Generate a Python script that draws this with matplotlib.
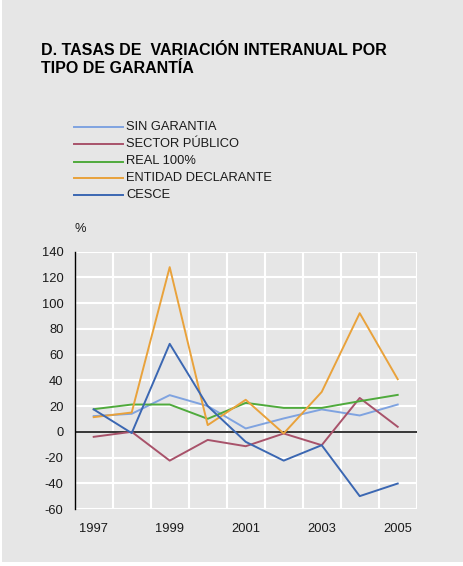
import matplotlib
matplotlib.use("Agg")
import matplotlib.pyplot as plt
from matplotlib.lines import Line2D
from matplotlib.patches import Rectangle
import numpy as np

plt.rcParams['font.family'] = ['Liberation Sans', 'DejaVu Sans']

years = ["1997", "1998", "1999", "2000", "2001", "2002", "2003", "2004", "2005"]
sin_garantia = [12.2, 14.0, 28.5, 20.0, 2.6, 10.4, 17.4, 12.7, 21.2]
sector_publico = [-3.9, 0.0, -22.4, -6.3, -11.2, -1.3, -10.4, 26.3, 3.9]
real_100 = [17.6, 21.2, 21.2, 10.1, 22.5, 18.6, 18.6, 23.8, 28.7]
entidad_declarante = [11.4, 15.0, 128.0, 5.2, 24.9, -1.3, 31.0, 92.2, 40.9]
cesce = [17.4, -1.0, 68.4, 20.0, -7.8, -22.4, -10.4, -50.0, -40.2]

series_names = ["SIN GARANTIA", "SECTOR PÚBLICO", "REAL 100%", "ENTIDAD DECLARANTE", "CESCE"]
series_values = [sin_garantia, sector_publico, real_100, entidad_declarante, cesce]
colors = ["#7FA3E0", "#A8526A", "#4FAA3C", "#E9A23B", "#3B67B2"]
yticks = [-60, -40, -20, 0, 20, 40, 60, 80, 100, 120, 140]
xtick_labels = ["1997", "1999", "2001", "2003", "2005"]

W, H = 464, 566
fig = plt.figure(figsize=(W / 100, H / 100), dpi=100)
fig.patch.set_facecolor("white")
bg = "#E6E6E6"
fig.patches.append(Rectangle((2 / W, 1 - 562 / H), 1, 562 / H, transform=fig.transFigure,
                             facecolor=bg, edgecolor="none", zorder=-10))

txtc = "#1a1a1a"
fig.text(41 / W, 1 - 55 / H, "D. TASAS DE  VARIACIÓN INTERANUAL POR", fontsize=11.5,
         fontweight="bold", color="black", va="baseline", ha="left")
fig.text(41 / W, 1 - 73 / H, "TIPO DE GARANTÍA", fontsize=11.5,
         fontweight="bold", color="black", va="baseline", ha="left")

# legend (manual)
rows = [127, 144, 161.5, 178, 195]
for name, c, ry in zip(series_names, colors, rows):
    fig.add_artist(Line2D([74 / W, 122.5 / W], [1 - ry / H, 1 - ry / H], color=c, lw=1.4,
                          transform=fig.transFigure))
    fig.text(126 / W, 1 - ry / H, name, fontsize=9.3, color=txtc, va="center", ha="left")

fig.text(75 / W, 1 - 229 / H, "%", fontsize=9.3, color=txtc, va="center", ha="left")

left, right, top, bottom = 74.7, 416.7, 251.7, 509.0
ax = fig.add_axes([left / W, 1 - bottom / H, (right - left) / W, (bottom - top) / H])
ax.set_facecolor(bg)
x = np.arange(len(years))
for vals, c in zip(series_values, colors):
    ax.plot(x, vals, color=c, lw=1.4, zorder=3)

ax.set_xlim(-0.5, len(years) - 0.5)
ax.set_ylim(-60, 140)
ax.set_yticks(yticks)
ax.set_yticklabels([str(t) for t in yticks])
ax.set_xticks([x[years.index(l)] for l in xtick_labels])
ax.set_xticklabels(xtick_labels)
ax.set_xticks(np.arange(len(years)) + 0.5, minor=True)
ax.grid(True, axis="y", which="major", color="white", lw=1.5, zorder=0)
ax.grid(True, axis="x", which="minor", color="white", lw=1.5, zorder=0)
ax.grid(False, axis="x", which="major")
ax.axhline(0, color="black", lw=1.1, zorder=2)
for s in ["top", "right", "bottom"]:
    ax.spines[s].set_visible(False)
ax.spines["left"].set_color("black")
ax.spines["left"].set_linewidth(1.0)
ax.spines["left"].set_zorder(4)
ax.tick_params(axis="both", which="both", length=0, labelsize=9.3, labelcolor=txtc)
ax.tick_params(axis="y", pad=8)
ax.tick_params(axis="x", pad=10)
ax.set_axisbelow(True)

fig.savefig("out.png", dpi=100, facecolor=fig.get_facecolor())
